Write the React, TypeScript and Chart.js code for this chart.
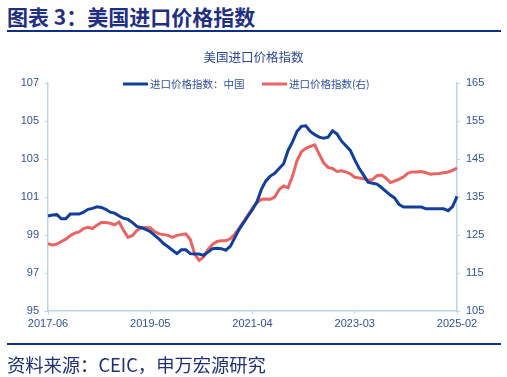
import React, { useEffect, useRef } from "react";
import { Chart, registerables } from "chart.js";

Chart.register(...registerables);

// Monthly labels 2017-06 .. 2025-02
const startYear = 2017;
const startMonth = 6;
const monthCount = 93;
const months: string[] = [];
for (let i = 0; i < monthCount; i++) {
  const t = startMonth - 1 + i;
  const y = startYear + Math.floor(t / 12);
  const m = (t % 12) + 1;
  months.push(`${y}-${m < 10 ? "0" + m : m}`);
}

const chinaImportPrice: number[] = [
  100.0, 100.05, 100.07, 99.85, 99.85, 100.1, 100.1, 100.1, 100.2, 100.35,
  100.4, 100.48, 100.45, 100.35, 100.2, 100.15, 100.0, 99.88, 99.82, 99.65,
  99.45, 99.38, 99.3, 99.18, 98.98, 98.78, 98.55, 98.38, 98.2, 98.02,
  98.22, 98.22, 98.02, 98.0, 98.0, 97.93, 98.1, 98.28, 98.3, 98.28,
  98.2, 98.4, 98.85, 99.3, 99.65, 100.0, 100.35, 100.75, 101.4, 101.85,
  102.1, 102.25, 102.5, 102.75, 103.45, 103.9, 104.45, 104.72, 104.75, 104.45,
  104.28, 104.15, 104.1, 104.15, 104.48, 104.32, 103.95, 103.7, 103.45, 102.95,
  102.5, 102.15, 101.78, 101.72, 101.68, 101.5, 101.3, 101.1, 100.94, 100.6,
  100.47, 100.47, 100.47, 100.47, 100.47, 100.38, 100.38, 100.38, 100.38, 100.38,
  100.28, 100.5, 101.03,
];

const usImportPrice: number[] = [
  122.7, 122.4, 122.6, 123.3, 123.9, 124.8, 125.5, 125.8, 126.7, 127.0,
  126.7, 127.6, 128.3, 128.3, 128.1, 127.7, 128.4, 126.2, 124.4, 124.9,
  126.2, 127.0, 127.0, 126.9, 125.9, 125.3, 125.1, 124.9, 124.4, 124.9,
  125.1, 125.3, 123.8, 120.0, 118.3, 119.2, 121.2, 122.5, 123.3, 123.5,
  123.5, 124.0, 125.2, 126.8, 128.5, 130.3, 132.0, 133.5, 134.4, 134.5,
  134.4, 135.0, 137.0, 137.9, 137.4, 140.5, 144.5, 146.9, 147.8, 148.3,
  148.7, 146.3, 144.0, 142.8, 142.5, 141.7, 141.9, 141.6, 141.1, 140.2,
  140.0, 139.8, 139.4, 139.6, 140.6, 140.8, 140.0, 138.8, 139.2, 139.7,
  140.3, 141.3, 141.6, 141.6, 141.7, 141.4, 141.0, 141.1, 141.2, 141.4,
  141.6, 142.0, 142.6,
];

const seriesNames: string[] = ["进口价格指数：中国", "进口价格指数(右)"];
const tickEvery = 23;

const BLUE = "#123f9c";
const RED = "#ea6462";
const TEXT = "#30509f";
const AXIS = "#bcd3ee";

const legendPlugin = {
  id: "customLegend",
  afterDraw(chart: any) {
    const ctx = chart.ctx;
    const y = 84;
    ctx.save();
    ctx.font = '10.5px "Noto Sans CJK SC", sans-serif';
    ctx.textBaseline = "middle";
    const items = [
      { color: BLUE, text: seriesNames[0], x: 123 },
      { color: RED, text: seriesNames[1], x: 262 },
    ];
    for (const it of items) {
      ctx.strokeStyle = it.color;
      ctx.lineWidth = 3;
      ctx.beginPath();
      ctx.moveTo(it.x, y);
      ctx.lineTo(it.x + 25, y);
      ctx.stroke();
      ctx.fillStyle = TEXT;
      ctx.fillText(it.text, it.x + 27, y);
    }
    ctx.restore();
  },
};

export default function App() {
  const ref = useRef<HTMLCanvasElement>(null);
  useEffect(() => {
    if (!ref.current) return;
    const tickFont = { family: '"Liberation Sans", Arial, sans-serif', size: 11 };
    const chart = new Chart(ref.current, {
      type: "line",
      data: {
        labels: months,
        datasets: [
          {
            label: seriesNames[0],
            data: chinaImportPrice,
            borderColor: BLUE,
            backgroundColor: BLUE,
            borderWidth: 3,
            pointRadius: 0,
            tension: 0,
            yAxisID: "y",
          },
          {
            label: seriesNames[1],
            data: usImportPrice,
            borderColor: RED,
            backgroundColor: RED,
            borderWidth: 3,
            pointRadius: 0,
            tension: 0,
            yAxisID: "y1",
          },
        ],
      },
      options: {
        animation: false,
        responsive: false,
        maintainAspectRatio: false,
        layout: { padding: { left: 8, right: 8, top: 83, bottom: 44 } },
        plugins: { legend: { display: false }, title: { display: false }, tooltip: { enabled: false } },
        scales: {
          x: {
            type: "category",
            offset: false,
            afterBuildTicks: (axis: any) => {
              axis.ticks = axis.ticks.filter((t: any) => t.value % tickEvery === 0);
            },
            afterFit: (scale: any) => {
              scale.height = 22;
            },
            ticks: {
              autoSkip: false,
              maxRotation: 0,
              minRotation: 0,
              color: TEXT,
              font: tickFont,
              padding: 3,
            },
            grid: { display: true, drawOnChartArea: false, drawTicks: true, tickLength: 3, color: AXIS },
            border: { display: true, color: AXIS, width: 1.5 },
          },
          y: {
            position: "left",
            min: 95,
            max: 107,
            afterFit: (scale: any) => {
              scale.width = 40;
            },
            ticks: { stepSize: 2, color: TEXT, font: tickFont, padding: 6 },
            grid: { display: true, drawOnChartArea: false, drawTicks: true, tickLength: 3, color: AXIS },
            border: { display: true, color: AXIS, width: 1.5 },
          },
          y1: {
            position: "right",
            min: 105,
            max: 165,
            afterFit: (scale: any) => {
              scale.width = 42;
            },
            ticks: { stepSize: 10, color: TEXT, font: tickFont, padding: 6 },
            grid: { display: true, drawOnChartArea: false, drawTicks: true, tickLength: 3, color: AXIS },
            border: { display: true, color: AXIS, width: 1.5 },
          },
        },
      },
      plugins: [legendPlugin],
    });
    return () => chart.destroy();
  }, []);

  return (
    <div style={{ position: "absolute", left: 0, top: 0, width: 507, height: 377, background: "#fff", overflow: "hidden" }}>
      <div
        style={{
          position: "absolute",
          left: 7,
          top: 2,
          fontFamily: '"Noto Sans CJK SC", sans-serif',
          fontWeight: 700,
          fontSize: 21,
          lineHeight: "28px",
          color: "#1f2f82",
          whiteSpace: "nowrap",
        }}
      >
        图表 3：美国进口价格指数
      </div>
      <div style={{ position: "absolute", left: 7, top: 30, width: 494, height: 2, background: "#0c2f8c" }} />
      <canvas ref={ref} width={507} height={377} style={{ position: "absolute", left: 0, top: 0, width: 507, height: 377 }} />
      <div
        style={{
          position: "absolute",
          left: 0,
          width: 507,
          top: 48,
          textAlign: "center",
          fontFamily: '"Noto Sans CJK SC", sans-serif',
          fontSize: 12.5,
          lineHeight: "18px",
          color: "#2a4595",
          whiteSpace: "nowrap",
        }}
      >
        美国进口价格指数
      </div>
      <div style={{ position: "absolute", left: 7, top: 343, width: 494, height: 2, background: "#0c2f8c" }} />
      <div
        style={{
          position: "absolute",
          left: 7,
          top: 352,
          fontFamily: '"Noto Sans CJK SC", sans-serif',
          fontSize: 18.3,
          lineHeight: "24px",
          color: "#1f2f78",
          whiteSpace: "nowrap",
        }}
      >
        资料来源：CEIC，申万宏源研究
      </div>
    </div>
  );
}
